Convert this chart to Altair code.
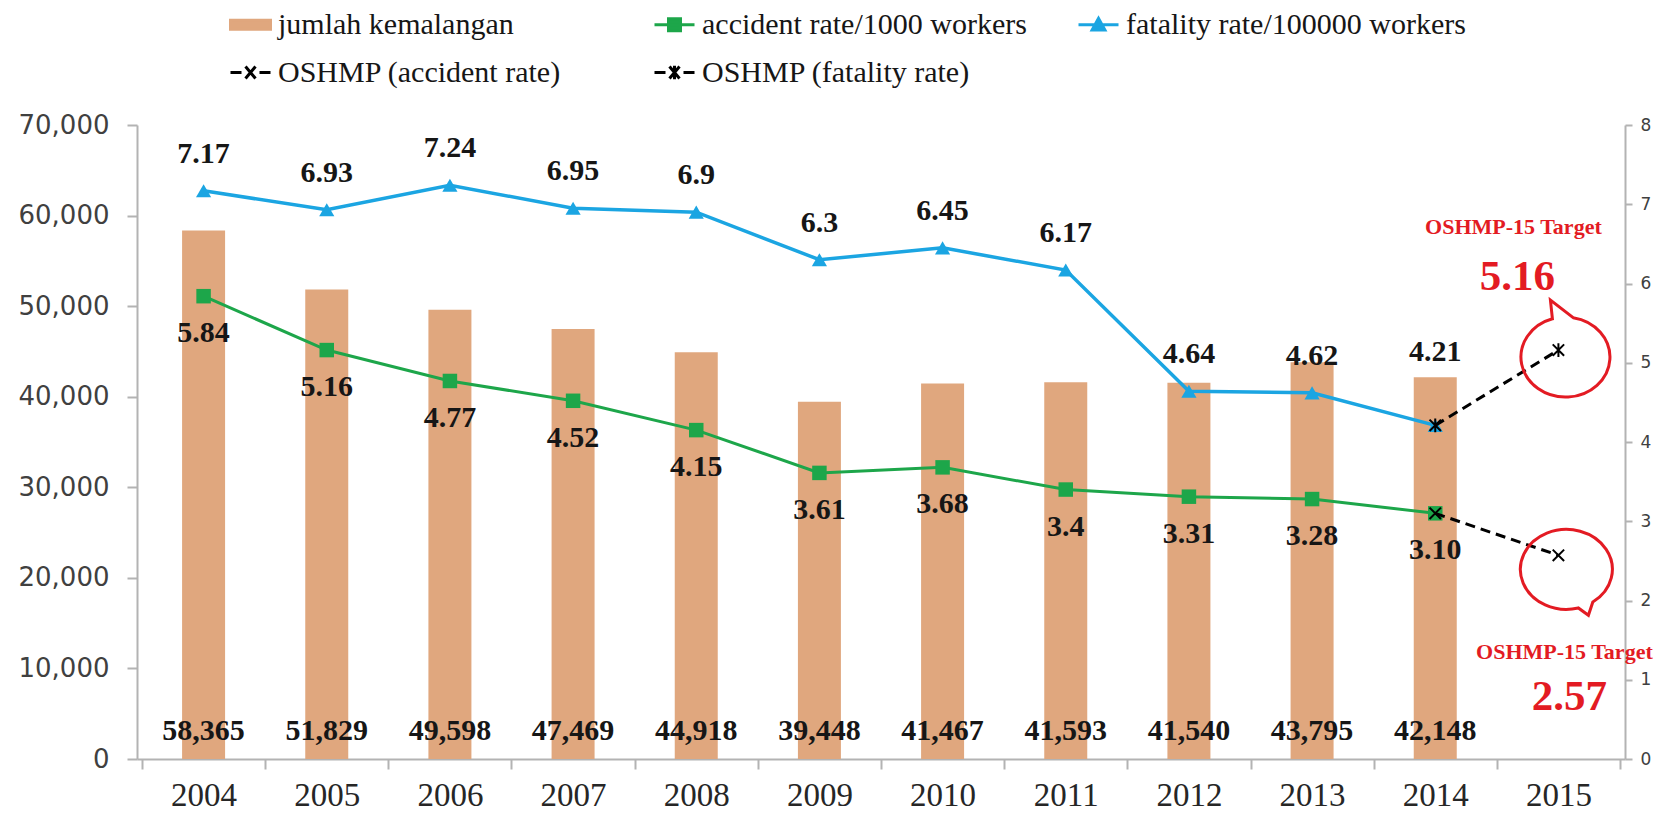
import altair as alt
import pandas as pd

# ---------------- data ----------------
years = [2004, 2005, 2006, 2007, 2008, 2009, 2010, 2011, 2012, 2013, 2014, 2015]
bar_years = years[:11]
accidents = [58365, 51829, 49598, 47469, 44918, 39448, 41467, 41593, 41540, 43795, 42148]
accident_rate = [5.84, 5.16, 4.77, 4.52, 4.15, 3.61, 3.68, 3.40, 3.31, 3.28, 3.10]
accident_rate_labels = ["5.84", "5.16", "4.77", "4.52", "4.15", "3.61", "3.68", "3.4", "3.31", "3.28", "3.10"]
fatality_rate = [7.17, 6.93, 7.24, 6.95, 6.90, 6.30, 6.45, 6.17, 4.64, 4.62, 4.21]
fatality_rate_labels = ["7.17", "6.93", "7.24", "6.95", "6.9", "6.3", "6.45", "6.17", "4.64", "4.62", "4.21"]
oshmp_years = [2014, 2015]
oshmp_accident = [3.10, 2.57]
oshmp_fatality = [4.21, 5.16]
target_year = [2015]
target_accident = [2.57]
target_fatality = [5.16]
target_title = "OSHMP-15 Target"

legend_names = ["jumlah kemalangan", "accident rate/1000 workers", "fatality rate/100000 workers",
                "OSHMP (accident rate)", "OSHMP (fatality rate)"]

# ---------------- styles ----------------
BAR = "#E0A77E"
GREEN = "#1DA64A"
BLUE = "#1BA5E2"
RED = "#E31B23"
TXT = "#161616"
AXIS = "#B3B3B3"
SERIF = "Liberation Serif"
SANS = "DejaVu Sans"

x_path = "M -1 -1 L 1 1 M -1 1 L 1 -1"
star_path = "M -1 -1 L 1 1 M -1 1 L 1 -1 M 0 -1.2 L 0 1.2"
bubble_up = "M -0.12 -0.625 L -0.16 -1.0 L 0.295 -0.648 A 0.89 0.8 0 1 1 -0.12 -0.625 Z"
bubble_down = "M 0.688 0.935 L 0.6 1.2 L 0.398 1.053 A 0.92 0.8 0 1 1 0.688 0.935 Z"

legend_colors = [BAR, GREEN, BLUE, "black", "black"]
legend_paths = [
    "M -1 -0.22 L 1 -0.22 L 1 0.22 L -1 0.22 Z",
    "M -1 0 L 1 0 M -0.3 -0.3 L 0.3 -0.3 L 0.3 0.3 L -0.3 0.3 Z",
    "M -1 0 L 1 0 M -0.32 0.26 L 0 -0.32 L 0.32 0.26 Z",
    "M -1 0 L -0.45 0 M 0.45 0 L 1 0 M -0.25 -0.3 L 0.25 0.3 M -0.25 0.3 L 0.25 -0.3",
    "M -1 0 L -0.45 0 M 0.45 0 L 1 0 M -0.25 -0.3 L 0.25 0.3 M -0.25 0.3 L 0.25 -0.3 M 0 -0.34 L 0 0.34",
]

# ---------------- tables ----------------
bars_df = pd.DataFrame({"year": bar_years, "count": accidents})
acc_df = pd.DataFrame({"year": bar_years, "rate": accident_rate, "label": accident_rate_labels})
fat_df = pd.DataFrame({"year": bar_years, "rate": fatality_rate, "label": fatality_rate_labels})
osh_acc_df = pd.DataFrame({"year": oshmp_years, "rate": oshmp_accident})
osh_fat_df = pd.DataFrame({"year": oshmp_years, "rate": oshmp_fatality})
tgt_acc_df = pd.DataFrame({"year": target_year, "rate": target_accident,
                           "label": [f"{v:.2f}" for v in target_accident], "title": [target_title]})
tgt_fat_df = pd.DataFrame({"year": target_year, "rate": target_fatality,
                           "label": [f"{v:.2f}" for v in target_fatality], "title": [target_title]})
legend_df = pd.DataFrame({"series": legend_names})

# ---------------- scales / axes ----------------
# categories sit in the middle of equal slots (Excel category axis)
x_scale = alt.Scale(domain=[years[0] - 0.5, years[-1] + 0.5], nice=False, zero=False)
left_scale = alt.Scale(domain=[0, 70000], nice=False, zero=True)
right_scale = alt.Scale(domain=[0, 8], nice=False, zero=True)

slot_edges = [y - 0.5 for y in years] + [years[-1] + 0.5]

x_tick_axis = alt.Axis(title=None, orient="bottom", values=slot_edges, format=".1f", labels=False,
                       tickSize=10, tickWidth=2, tickColor=AXIS, domainColor=AXIS, domainWidth=2,
                       grid=False)
x_label_axis = alt.Axis(title=None, orient="bottom", values=years, format="d", ticks=False, tickSize=0,
                        domain=False, labelAngle=0, labelFont=SERIF, labelFontSize=33,
                        labelColor="#262626", labelPadding=20, labelFlush=False, labelOverlap=False,
                        grid=False)
left_axis = alt.Axis(title=None, orient="left", values=list(range(0, 70001, 10000)), format=",.0f",
                     labelFont=SANS, labelFontSize=26, labelColor="#404040", tickSize=10, tickWidth=2,
                     tickColor=AXIS, domainColor=AXIS, domainWidth=2, labelPadding=18, grid=False)
right_axis = alt.Axis(title=None, orient="right", values=list(range(0, 9)), format=".0f",
                      labelFont=SANS, labelFontSize=17, labelColor="#404040", tickSize=7, tickWidth=2,
                      tickColor=AXIS, domainColor=AXIS, domainWidth=2, labelPadding=8, grid=False)


def X(axis=None):
    return alt.X("year:Q", scale=x_scale, axis=axis)


def YR(axis=None):
    return alt.Y("rate:Q", scale=right_scale, axis=axis)


# ---------------- bars (left scale) ----------------
bars = alt.Chart(bars_df).mark_bar(color=BAR, size=43).encode(
    x=X(x_tick_axis), y=alt.Y("count:Q", scale=left_scale, axis=left_axis))
bar_text = alt.Chart(bars_df).mark_text(font=SERIF, fontSize=30, fontWeight="bold", color=TXT,
                                        baseline="middle", dy=-28).encode(
    x=X(x_label_axis), y=alt.YDatum(0, scale=left_scale, axis=None), text=alt.Text("count:Q", format=","))

# ---------------- rates (right scale) ----------------
fat_line = alt.Chart(fat_df).mark_line(color=BLUE, strokeWidth=3.5).encode(x=X(), y=YR(right_axis))
fat_pts = alt.Chart(fat_df).mark_point(shape="triangle-up", filled=True, size=230, color=BLUE,
                                       opacity=1).encode(x=X(), y=YR())
acc_line = alt.Chart(acc_df).mark_line(color=GREEN, strokeWidth=3).encode(x=X(), y=YR())
acc_pts = alt.Chart(acc_df).mark_point(shape="square", filled=True, size=210, color=GREEN,
                                       opacity=1).encode(x=X(), y=YR())

osh_acc_line = alt.Chart(osh_acc_df).mark_line(color="black", strokeWidth=3, strokeDash=[10, 6]).encode(
    x=X(), y=YR())
osh_fat_line = alt.Chart(osh_fat_df).mark_line(color="black", strokeWidth=3, strokeDash=[10, 6]).encode(
    x=X(), y=YR())
osh_acc_pts = alt.Chart(osh_acc_df).mark_point(shape=x_path, size=130, filled=False, color="black",
                                               strokeWidth=2, opacity=1).encode(x=X(), y=YR())
osh_fat_pts = alt.Chart(osh_fat_df).mark_point(shape=star_path, size=130, filled=False, color="black",
                                               strokeWidth=2, opacity=1).encode(x=X(), y=YR())

lbl = dict(font=SERIF, fontSize=30, fontWeight="bold", color=TXT, baseline="middle")
fat_text = alt.Chart(fat_df).transform_filter("datum.year != 2014").mark_text(dy=-37, **lbl).encode(
    x=X(), y=YR(), text="label:N")
fat_text_last = alt.Chart(fat_df).transform_filter("datum.year == 2014").mark_text(dy=-73, **lbl).encode(
    x=X(), y=YR(), text="label:N")
acc_text = alt.Chart(acc_df).mark_text(dy=37, **lbl).encode(x=X(), y=YR(), text="label:N")

bub_up = alt.Chart(tgt_fat_df).mark_point(shape=bubble_up, size=10000, filled=False, color=RED,
                                          strokeWidth=3, opacity=1).encode(x=X(), y=YR())
bub_down = alt.Chart(tgt_acc_df).mark_point(shape=bubble_down, size=10000, filled=False, color=RED,
                                            strokeWidth=3, opacity=1).encode(x=X(), y=YR())
t_style = dict(font=SERIF, fontWeight="bold", color=RED, baseline="middle")
tgt_fat_title = alt.Chart(tgt_fat_df).mark_text(fontSize=22, dx=-45, dy=-123, **t_style).encode(
    x=X(), y=YR(), text="title:N")
tgt_fat_val = alt.Chart(tgt_fat_df).mark_text(fontSize=43, dx=-41, dy=-73, **t_style).encode(
    x=X(), y=YR(), text="label:N")
tgt_acc_title = alt.Chart(tgt_acc_df).mark_text(fontSize=22, dx=6, dy=97, **t_style).encode(
    x=X(), y=YR(), text="title:N")
tgt_acc_val = alt.Chart(tgt_acc_df).mark_text(fontSize=43, dx=11, dy=142, **t_style).encode(
    x=X(), y=YR(), text="label:N")

leg = alt.Legend(title=None, orient="none", legendX=92, legendY=-122, direction="horizontal",
                 columns=3, gridAlign="all", symbolSize=1600, symbolStrokeWidth=3,
                 labelFont=SERIF, labelFontSize=30, labelColor=TXT, labelOffset=6, labelLimit=600,
                 columnPadding=30, rowPadding=11, padding=0)
legend_layer = alt.Chart(legend_df).transform_filter("false").mark_point(
    filled=True, opacity=1, size=1600).encode(
    fill=alt.Fill("series:N", scale=alt.Scale(domain=legend_names, range=legend_colors), legend=leg),
    stroke=alt.Stroke("series:N", scale=alt.Scale(domain=legend_names, range=legend_colors), legend=leg),
    shape=alt.Shape("series:N", scale=alt.Scale(domain=legend_names, range=legend_paths), legend=leg),
)

chart = alt.layer(
    bars, bar_text, fat_line, acc_line, fat_pts, acc_pts, osh_acc_line, osh_fat_line, osh_acc_pts,
    osh_fat_pts, fat_text, fat_text_last, acc_text, bub_up, bub_down, tgt_fat_title, tgt_fat_val,
    tgt_acc_title, tgt_acc_val, legend_layer
).resolve_scale(y="independent").resolve_axis(x="independent").properties(
    width=1488, height=634,
    autosize=alt.AutoSizeParams(type="none"),
    padding={"left": 137, "top": 125, "right": 41, "bottom": 62},
    background="white",
).configure_view(stroke=None)

chart.save("out.html", embed_options={"renderer": "svg", "actions": False})
